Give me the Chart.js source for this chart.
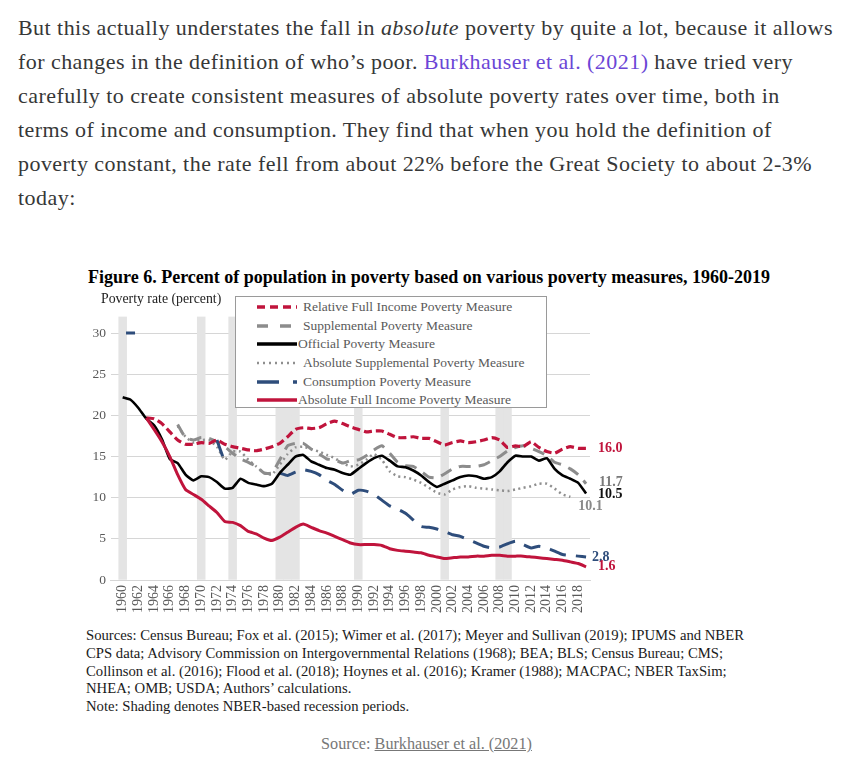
<!DOCTYPE html>
<html>
<head>
<meta charset="utf-8">
<script src="https://cdn.jsdelivr.net/npm/chart.js@4.4.1/dist/chart.umd.min.js"></script>
<style>
  body { margin: 0; background: #fff; width: 853px; height: 764px; position: relative; overflow: hidden; }
  .para { position: absolute; left: 18px; top: 11px; font-family: "Liberation Serif", serif; font-size: 22px; letter-spacing: 0.45px; line-height: 34px; color: #363737; white-space: nowrap; }
  .para a { color: #6b46d6; text-decoration: none; }
  .fig-title { position: absolute; left: 88px; top: 267px; font-family: "Liberation Serif", serif; font-weight: bold; font-size: 18px; line-height: 20px; color: #000; white-space: nowrap; }
  .y-title { position: absolute; left: 101px; top: 291px; font-family: "Liberation Serif", serif; font-size: 13.8px; line-height: 16px; color: #222; white-space: nowrap; z-index: 2; }
  #chartBox { position: absolute; left: 80px; top: 300px; width: 560px; height: 320px; }
  #legend { position: absolute; left: 235px; top: 296px; width: 312px; height: 112px; box-sizing: border-box; border: 1px solid #9a9a9a; background: #fff; z-index: 2; padding-top: 1px; }
  .lg-row { display: flex; align-items: center; height: 18.6px; font-family: "Liberation Serif", serif; font-size: 13.5px; color: #5a5a5a; white-space: nowrap; }
  .lg-row svg { margin-left: 21px; flex: none; }
  .sources { position: absolute; left: 86px; top: 627px; font-family: "Liberation Serif", serif; font-size: 14.7px; line-height: 17.8px; color: #1a1a1a; white-space: nowrap; }
  .caption { position: absolute; left: 0; width: 853px; top: 734px; text-align: center; font-family: "Liberation Serif", serif; font-size: 16.2px; line-height: 20px; color: #777; }
  .caption a { color: #777; text-decoration: underline; }
</style>
</head>
<body>
<div class="para">
But this actually understates the fall in <i>absolute</i> poverty by quite a lot, because it allows<br>
for changes in the definition of who’s poor. <a href="#">Burkhauser et al. (2021)</a> have tried very<br>
carefully to create consistent measures of absolute poverty rates over time, both in<br>
terms of income and consumption. They find that when you hold the definition of<br>
poverty constant, the rate fell from about 22% before the Great Society to about 2-3%<br>
today:
</div>

<div class="fig-title">Figure 6. Percent of population in poverty based on various poverty measures, 1960-2019</div>
<div class="y-title">Poverty rate (percent)</div>
<div id="chartBox"><canvas id="chart"></canvas></div>
<div id="legend"></div>

<div class="sources">
Sources: Census Bureau; Fox et al. (2015); Wimer et al. (2017); Meyer and Sullivan (2019); IPUMS and NBER<br>
CPS data; Advisory Commission on Intergovernmental Relations (1968); BEA; BLS; Census Bureau; CMS;<br>
Collinson et al. (2016); Flood et al. (2018); Hoynes et al. (2016); Kramer (1988); MACPAC; NBER TaxSim;<br>
NHEA; OMB; USDA; Authors’ calculations.<br>
Note: Shading denotes NBER-based recession periods.
</div>
<div class="caption">Source: <a href="#">Burkhauser et al. (2021)</a></div>

<script>
// categories: one per year, 1959 slot is empty (axis starts half a step early)
const years = [];
for (let y = 1959; y <= 2019; y++) years.push(y);

const recessionYears = [1960, 1970, 1974, 1980, 1981, 1982, 1990, 2001, 2008, 2009];

// values, each list starts at the given year
const officialStart = 1960;
const official = [
  22.2, 21.9, 20.9, 19.6, 18.8, 17.1, 14.7, 14.2, 12.8, 12.1,
  12.6, 12.5, 11.9, 11.1, 11.2, 12.3, 11.8, 11.6, 11.4, 11.7,
  13.0, 14.0, 15.0, 15.2, 14.4, 14.0, 13.6, 13.4, 13.0, 12.8,
  13.5, 14.2, 14.8, 15.1, 14.5, 13.8, 13.7, 13.3, 12.7, 11.9,
  11.3, 11.7, 12.1, 12.5, 12.7, 12.6, 12.3, 12.5, 13.2, 14.3,
  15.1, 15.0, 15.0, 14.5, 14.8, 13.5, 12.7, 12.3, 11.8, 10.5
];

const relFullStart = 1963;
const relFull = [
  19.7, 19.6, 19.0, 18.0, 17.0, 16.5, 16.5,
  16.7, 16.6, 17.0, 16.5, 16.2, 16.0, 15.8, 15.7, 15.9, 16.2,
  16.6, 17.4, 18.3, 18.5, 18.4, 18.5, 19.0, 19.3, 19.0, 18.6,
  18.3, 18.0, 18.1, 18.1, 17.7, 17.3, 17.3, 17.4, 17.2, 17.2,
  16.8, 16.4, 16.7, 16.9, 16.7, 16.8, 17.0, 17.3, 17.0, 16.1,
  16.3, 16.2, 16.8, 16.1, 15.6, 15.4, 15.9, 16.2, 16.0, 16.0
];

const absFullStart = 1963;
const absFull = [
  19.7, 18.3, 16.8, 15.0, 12.8, 11.0, 10.4,
  9.8, 9.0, 8.2, 7.1, 7.0, 6.6, 5.9, 5.6, 5.1, 4.8,
  5.2, 5.8, 6.4, 6.8, 6.4, 6.0, 5.7, 5.3, 4.9, 4.5,
  4.3, 4.3, 4.3, 4.2, 3.8, 3.6, 3.5, 3.4, 3.3, 3.0,
  2.8, 2.6, 2.7, 2.8, 2.8, 2.9, 2.9, 3.0, 3.0, 2.9,
  2.9, 2.9, 2.8, 2.7, 2.6, 2.5, 2.4, 2.2, 2.0, 1.6
];

const spmStart = 1967;
const spm = [
  18.9, 17.3, 17.0,
  17.3, 17.2, 16.8, 16.2, 15.4, 14.7, 14.3, 13.8, 13.0, 13.0,
  14.6, 16.3, 16.6, 16.6, 15.9, 15.3, 14.7, 14.6, 14.2, 14.5,
  14.6, 15.1, 15.8, 16.3, 15.4, 14.3, 13.9, 13.8, 13.2, 12.5,
  12.4, 12.9, 13.5, 13.8, 13.8, 13.8, 14.0, 14.5, 15.0, 15.7,
  16.1, 16.3, 16.0, 15.6, 15.1, 14.3, 14.0, 13.5, 12.8, 11.7
];

const absSpmStart = 1967;
const absSpm = [
  18.7, 17.4, 16.7,
  17.0, 17.0, 16.2, 14.6, 15.6, 15.6, 14.6, 13.8, 13.0, 12.8,
  14.0, 15.3, 16.1, 16.2, 15.9, 15.6, 15.2, 14.8, 14.2, 13.8,
  14.0, 14.6, 15.3, 14.6, 13.2, 12.6, 12.5, 12.2, 11.8, 11.2,
  10.6, 10.4, 11.0, 11.3, 11.4, 11.2, 11.1, 11.0, 10.9, 10.8,
  11.0, 11.2, 11.4, 11.7, 11.7, 11.1, 10.4, 10.1
];

// consumption survey years only (1960-61, 1972-73, 1980 on)
const consumptionStart = 1961;
const consumption = [
  30.0, null, null, null, null, null, null, null, null, null,
  null, 17.0, 14.3, null, null, null, null, null, null,
  13.0, 12.7, 13.1, 13.4, 13.2, 12.8, 12.1, 11.6, 10.9, 10.4,
  10.9, 10.8, 10.4, 9.7, 9.0, 8.6, 8.1, 7.3, 6.5, 6.4,
  6.2, 5.9, 5.5, 5.3, 4.9, 4.5, 4.1, 3.9, 4.0, 4.4,
  4.7, 4.3, 3.9, 4.1, 3.9, 3.5, 3.1, 3.0, 2.9, 2.8
];

function alignToYears(start, values) {
  return years.map((y) => {
    const i = y - start;
    return i >= 0 && i < values.length ? values[i] : null;
  });
}

const RED = "#c0143c";
const NAVY = "#2e4d7b";

// isolated point (no neighbours) gets a short dash so it stays visible
function loneDash(ctx) {
  const d = ctx.dataset.data;
  const i = ctx.dataIndex;
  return d[i] != null && d[i - 1] == null && d[i + 1] == null ? 4.5 : 0;
}

const datasets = [
  {
    label: "Relative Full Income Poverty Measure",
    data: alignToYears(relFullStart, relFull),
    borderColor: RED, borderWidth: 3.2, borderDash: [8, 4],
    order: 3,
    endLabel: { text: "16.0", color: RED, dx: 12, dy: 0 },
    legendDash: "8 5", legendWidth: 3.5
  },
  {
    label: "Supplemental Poverty Measure",
    data: alignToYears(spmStart, spm),
    borderColor: "#8c8c8c", borderWidth: 3, borderDash: [12, 8],
    order: 5,
    endLabel: { text: "11.7", color: "#7a7a7a", dx: 13, dy: -1 },
    legendDash: "11 12", legendWidth: 3.5
  },
  {
    label: "Official Poverty Measure",
    data: alignToYears(officialStart, official),
    borderColor: "#000", borderWidth: 2.6,
    order: 2,
    endLabel: { text: "10.5", color: "#111", dx: 12, dy: 1 },
    legendDash: null, legendWidth: 3.5, legendGap: 1
  },
  {
    label: "Absolute Supplemental Poverty Measure",
    data: alignToYears(absSpmStart, absSpm),
    borderColor: "#8f8f8f", borderWidth: 2.5, borderDash: [2, 3.5],
    order: 6,
    endLabel: { text: "10.1", color: "#8a8a8a", dx: 8, dy: 10 },
    legendDash: "2 4", legendWidth: 2.5
  },
  {
    label: "Consumption Poverty Measure",
    data: alignToYears(consumptionStart, consumption),
    borderColor: NAVY, borderWidth: 3, borderDash: [17, 10],
    pointRadius: loneDash, pointStyle: "line", pointBorderColor: NAVY, pointBorderWidth: 3,
    order: 4,
    endLabel: { text: "2.8", color: NAVY, dx: 6, dy: 0 },
    legendDash: "22 14", legendWidth: 3.5
  },
  {
    label: "Absolute Full Income Poverty Measure",
    data: alignToYears(absFullStart, absFull),
    borderColor: RED, borderWidth: 3,
    order: 1,
    endLabel: { text: "1.6", color: RED, dx: 12, dy: 0 },
    legendDash: null, legendWidth: 3.5, legendGap: 1
  }
];

datasets.forEach((ds) => {
  ds.type = "line";
  ds.fill = false;
  ds.spanGaps = false;
  if (ds.pointRadius === undefined) ds.pointRadius = 0;
});

const recessionBars = {
  type: "bar",
  label: "Recession",
  data: years.map((y) => (recessionYears.includes(y) ? 32 : null)),
  backgroundColor: "#e4e4e4",
  borderWidth: 0,
  barPercentage: 1,
  categoryPercentage: 1,
  order: 100
};

const endLabels = {
  id: "endLabels",
  afterDatasetsDraw(chart) {
    const ctx = chart.ctx;
    ctx.save();
    ctx.font = 'bold 14px "Liberation Serif"';
    ctx.textBaseline = "middle";
    ctx.textAlign = "left";
    chart.data.datasets.forEach((ds, i) => {
      if (!ds.endLabel) return;
      const meta = chart.getDatasetMeta(i);
      let last = -1;
      ds.data.forEach((v, j) => { if (v != null) last = j; });
      const pt = meta.data[last];
      ctx.fillStyle = ds.endLabel.color;
      ctx.fillText(ds.endLabel.text, pt.x + ds.endLabel.dx, pt.y + ds.endLabel.dy);
    });
    ctx.restore();
  }
};

Chart.defaults.font.family = '"Liberation Serif", serif';

new Chart(document.getElementById("chart"), {
  type: "line",
  data: { labels: years, datasets: [...datasets, recessionBars] },
  options: {
    responsive: true,
    maintainAspectRatio: false,
    animation: false,
    layout: { padding: { top: 16.6, right: 50, bottom: 0, left: 0 } },
    elements: { line: { tension: 0.15 } },
    plugins: { legend: { display: false }, tooltip: { enabled: false } },
    scales: {
      x: {
        type: "category",
        offset: true,
        grid: { display: false, drawTicks: false },
        border: { display: true, color: "#d6d6d6", width: 1 },
        ticks: {
          autoSkip: false, maxRotation: 90, minRotation: 90, padding: 5,
          color: "#595959", font: { size: 14 },
          callback: (v, i) => (years[i] % 2 === 0 ? String(years[i]) : "")
        },
        afterFit(scale) { scale.height = 40; }
      },
      y: {
        min: 0, max: 32,
        grid: { color: "#d6d6d6", drawTicks: false },
        border: { display: false },
        ticks: { stepSize: 5, padding: 5, color: "#595959", font: { size: 13.5 } },
        afterBuildTicks(scale) { scale.ticks = scale.ticks.filter((t) => t.value <= 30); },
        afterFit(scale) { scale.width = 30.9; }
      }
    }
  },
  plugins: [endLabels]
});

// legend box, built from the same dataset styles
const legend = document.getElementById("legend");
datasets.forEach((ds) => {
  const row = document.createElement("div");
  row.className = "lg-row";
  const dash = ds.legendDash ? ` stroke-dasharray="${ds.legendDash}"` : "";
  row.innerHTML =
    `<svg width="40" height="10"><line x1="0" y1="5" x2="40" y2="5" stroke="${ds.borderColor}" stroke-width="${ds.legendWidth}"${dash}/></svg>` +
    `<span style="margin-left:${ds.legendGap || 6}px">${ds.label}</span>`;
  legend.appendChild(row);
});
</script>
</body>
</html>
